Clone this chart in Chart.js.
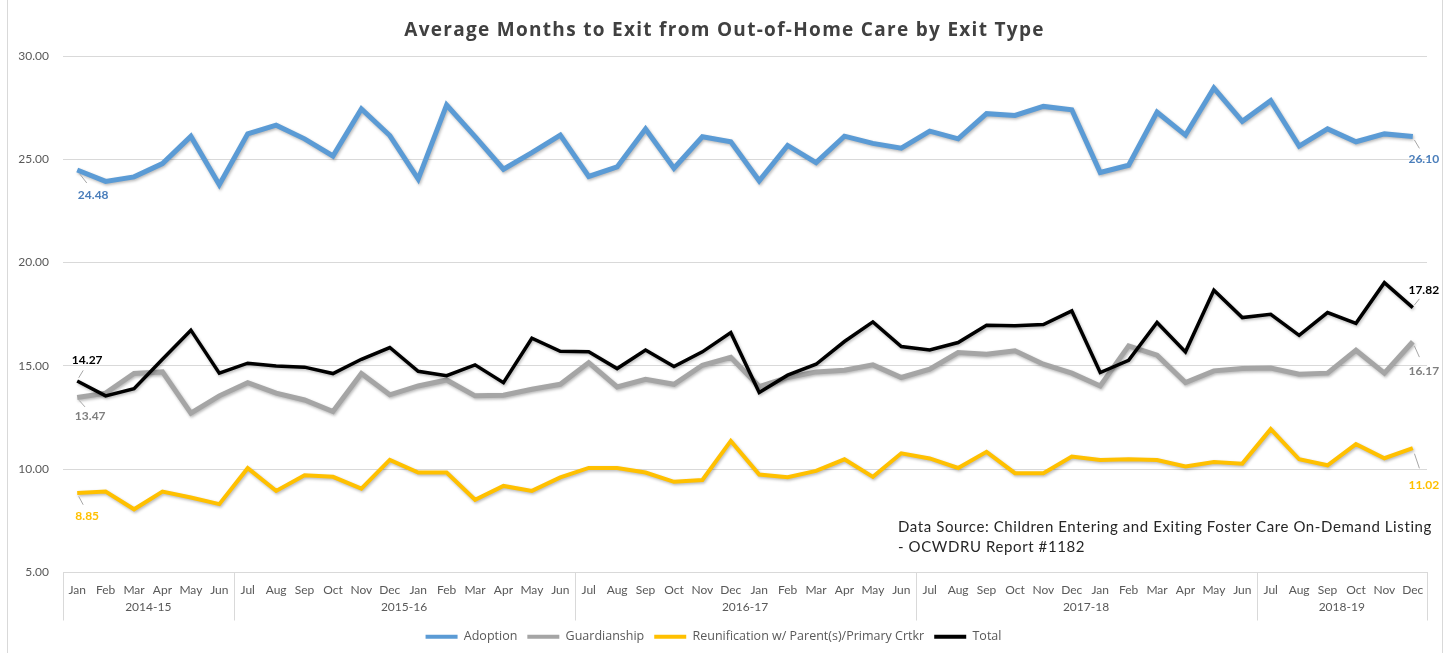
<!DOCTYPE html>
<html>
<head>
<meta charset="utf-8">
<script src="https://cdn.jsdelivr.net/npm/chart.js@4"></script>
<style>
  html, body { margin: 0; padding: 0; background: #fff; }
  #wrap {
    position: relative;
    width: 1449px;
    height: 653px;
    overflow: hidden;
  }
  #frame {
    position: absolute;
    left: 7px; top: 0; width: 1436px; height: 653px;
    border-left: 1px solid #d9d9d9;
    border-right: 1px solid #d9d9d9;
    box-sizing: border-box;
    pointer-events: none;
  }
  #title {
    position: absolute;
    left: 0; right: 0; top: 16px;
    text-align: center;
    font: bold 19px "Open Sans", sans-serif;
    color: #404040;
    letter-spacing: 1.3px;
  }
  #source {
    position: absolute;
    left: 898px; top: 516px;
    font: 15px Lato, sans-serif;
    color: #262626;
    letter-spacing: 0.6px;
    line-height: 20px;
  }
  canvas { position: absolute; left: 0; top: 0; }
</style>
</head>
<body>
<div id="wrap">
  <canvas id="chart" width="1449" height="653"></canvas>
  <div id="title">Average Months to Exit from Out-of-Home Care by Exit Type</div>
  <div id="source">Data Source: Children Entering and Exiting Foster Care On-Demand Listing<br>- OCWDRU Report #1182</div>
  <div id="frame"></div>
</div>
<script>
const months = [
  "Jan","Feb","Mar","Apr","May","Jun",
  "Jul","Aug","Sep","Oct","Nov","Dec","Jan","Feb","Mar","Apr","May","Jun",
  "Jul","Aug","Sep","Oct","Nov","Dec","Jan","Feb","Mar","Apr","May","Jun",
  "Jul","Aug","Sep","Oct","Nov","Dec","Jan","Feb","Mar","Apr","May","Jun",
  "Jul","Aug","Sep","Oct","Nov","Dec"
];
const fiscalYears = ["2014-15", "2015-16", "2016-17", "2017-18", "2018-19"];
const fiscalYearMonths = [6, 12, 12, 12, 6];

const yTicks = [5, 10, 15, 20, 25, 30];

const adoption = [
  24.48, 23.93, 24.15, 24.79, 26.11, 23.77,
  26.23, 26.65, 25.99, 25.16, 27.44, 26.15, 24.04, 27.63, 26.10, 24.52, 25.32, 26.17,
  24.17, 24.63, 26.47, 24.57, 26.09, 25.85, 23.96, 25.67, 24.84, 26.12, 25.77, 25.54,
  26.36, 25.99, 27.21, 27.12, 27.56, 27.40, 24.36, 24.71, 27.28, 26.17, 28.45, 26.84,
  27.84, 25.64, 26.47, 25.85, 26.23, 26.10
];
const guardianship = [
  13.47, 13.68, 14.63, 14.71, 12.71, 13.55,
  14.19, 13.68, 13.35, 12.79, 14.63, 13.60, 14.03, 14.32, 13.55, 13.58, 13.87, 14.11,
  15.16, 13.98, 14.35, 14.11, 15.03, 15.42, 14.00, 14.44, 14.71, 14.79, 15.05, 14.44,
  14.84, 15.65, 15.56, 15.73, 15.08, 14.65, 14.03, 15.97, 15.52, 14.19, 14.76, 14.87,
  14.90, 14.60, 14.65, 15.76, 14.65, 16.17
];
const reunification = [
  8.85, 8.92, 8.06, 8.92, 8.63, 8.31,
  10.05, 8.95, 9.71, 9.63, 9.06, 10.45, 9.84, 9.84, 8.52, 9.19, 8.95, 9.60,
  10.06, 10.06, 9.84, 9.39, 9.48, 11.37, 9.74, 9.61, 9.92, 10.48, 9.63, 10.77,
  10.52, 10.06, 10.84, 9.81, 9.81, 10.61, 10.44, 10.48, 10.44, 10.13, 10.35, 10.27,
  11.94, 10.48, 10.19, 11.21, 10.53, 11.02
];
const total = [
  14.27, 13.55, 13.90, 15.32, 16.73, 14.65,
  15.13, 15.00, 14.94, 14.63, 15.32, 15.89, 14.74, 14.53, 15.05, 14.19, 16.34, 15.71,
  15.68, 14.87, 15.77, 14.97, 15.68, 16.61, 13.71, 14.55, 15.08, 16.18, 17.13, 15.94,
  15.77, 16.13, 16.97, 16.94, 17.00, 17.66, 14.68, 15.27, 17.10, 15.68, 18.66, 17.34,
  17.50, 16.48, 17.58, 17.06, 19.03, 17.82
];

// where the first/last value labels sit relative to their points
const endLabelStyle = [
  { color: "#4a7ebb", first: [16, 25], last: [11, 23] },
  { color: "#7f7f7f", first: [13, 19], last: [11, 29] },
  { color: "#ffc000", first: [10, 23], last: [11, 37] },
  { color: "#000000", first: [10, -21], last: [11, -18] }
];

const axisText = "#595959";
const gridColor = "#d9d9d9";

// soft drop shadow under the lines
const lineShadow = {
  id: "lineShadow",
  beforeDatasetsDraw(chart) {
    const ctx = chart.ctx;
    ctx.save();
    ctx.shadowColor = "rgba(0,0,0,0.28)";
    ctx.shadowBlur = 3;
    ctx.shadowOffsetX = 1;
    ctx.shadowOffsetY = 1.5;
  },
  afterDatasetsDraw(chart) {
    chart.ctx.restore();
  }
};

// fiscal-year row under the month labels
const yearAxis = {
  id: "yearAxis",
  afterDraw(chart) {
    const ctx = chart.ctx;
    const x = chart.scales.x;
    const area = chart.chartArea;
    const top = area.bottom;
    const bottom = area.bottom + 48;
    const edges = [area.left];
    let idx = 0;
    fiscalYearMonths.forEach((n, k) => {
      idx += n;
      if (k < fiscalYearMonths.length - 1) {
        edges.push((x.getPixelForValue(idx - 1) + x.getPixelForValue(idx)) / 2);
      }
    });
    edges.push(area.right);

    ctx.save();
    ctx.strokeStyle = gridColor;
    ctx.lineWidth = 1;
    edges.forEach(px => {
      const xx = Math.round(px) + 0.5;
      ctx.beginPath();
      ctx.moveTo(xx, top);
      ctx.lineTo(xx, bottom);
      ctx.stroke();
    });
    ctx.fillStyle = axisText;
    ctx.font = "12px Lato, sans-serif";
    ctx.textAlign = "center";
    ctx.textBaseline = "middle";
    fiscalYears.forEach((label, k) => {
      ctx.fillText(label, (edges[k] + edges[k + 1]) / 2, top + 35);
    });
    ctx.restore();
  }
};

// value labels on the first and last points of each line
const endLabels = {
  id: "endLabels",
  afterDatasetsDraw(chart) {
    const ctx = chart.ctx;
    ctx.save();
    ctx.font = "bold 12px Lato, sans-serif";
    ctx.textAlign = "center";
    ctx.textBaseline = "middle";
    chart.data.datasets.forEach((ds, i) => {
      const meta = chart.getDatasetMeta(i);
      const st = endLabelStyle[i];
      [[0, st.first], [ds.data.length - 1, st.last]].forEach(([j, off]) => {
        const pt = meta.data[j];
        const lx = pt.x + off[0];
        const ly = pt.y + off[1];
        // leader line
        ctx.strokeStyle = "#a6a6a6";
        ctx.lineWidth = 1;
        ctx.beginPath();
        ctx.moveTo(pt.x + off[0] * 0.15, pt.y + off[1] * 0.15);
        ctx.lineTo(pt.x + off[0] * 0.6, pt.y + off[1] * 0.6 - Math.sign(off[1]) * 2);
        ctx.stroke();
        ctx.fillStyle = st.color;
        ctx.fillText(ds.data[j].toFixed(2), lx, ly);
      });
    });
    ctx.restore();
  }
};

function series(label, data, color, width, order) {
  return {
    label, data,
    borderColor: color,
    backgroundColor: color,
    borderWidth: width,
    pointRadius: 0,
    tension: 0,
    order
  };
}

new Chart(document.getElementById("chart"), {
  type: "line",
  data: {
    labels: months,
    datasets: [
      series("Adoption", adoption, "#5b9bd5", 5, 3),
      series("Guardianship", guardianship, "#a5a5a5", 5, 2),
      series("Reunification w/ Parent(s)/Primary Crtkr", reunification, "#ffc000", 4, 1),
      series("Total", total, "#000000", 3.5, 0)
    ]
  },
  options: {
    responsive: false,
    animation: false,
    layout: { padding: { left: 0, right: 22, top: 56, bottom: 0 } },
    plugins: {
      title: { display: false },
      tooltip: { enabled: false },
      legend: {
        position: "bottom",
        labels: {
          color: axisText,
          font: { family: "Open Sans", size: 12.5 },
          boxWidth: 32,
          boxHeight: 4,
          padding: 10,
          generateLabels(chart) {
            return chart.data.datasets.map((ds, i) => ({
              text: ds.label,
              fillStyle: ds.borderColor,
              strokeStyle: ds.borderColor,
              lineWidth: 0,
              fontColor: axisText,
              datasetIndex: i
            }));
          }
        }
      }
    },
    scales: {
      x: {
        offset: true,
        grid: { display: false, drawTicks: false },
        border: { display: true, color: gridColor },
        ticks: {
          autoSkip: false,
          maxRotation: 0,
          padding: 10,
          color: axisText,
          font: { family: "Lato", size: 12 }
        },
        afterFit(scale) { scale.height = 48; }
      },
      y: {
        min: 5,
        max: 30,
        afterBuildTicks(scale) { scale.ticks = yTicks.map(v => ({ value: v })); },
        grid: { color: gridColor, drawTicks: false },
        border: { display: false },
        ticks: {
          padding: 14,
          color: axisText,
          font: { family: "Lato", size: 12 },
          callback: v => Number(v).toFixed(2)
        },
        afterFit(scale) { scale.width = 63; }
      }
    }
  },
  plugins: [lineShadow, yearAxis, endLabels]
});
</script>
</body>
</html>
